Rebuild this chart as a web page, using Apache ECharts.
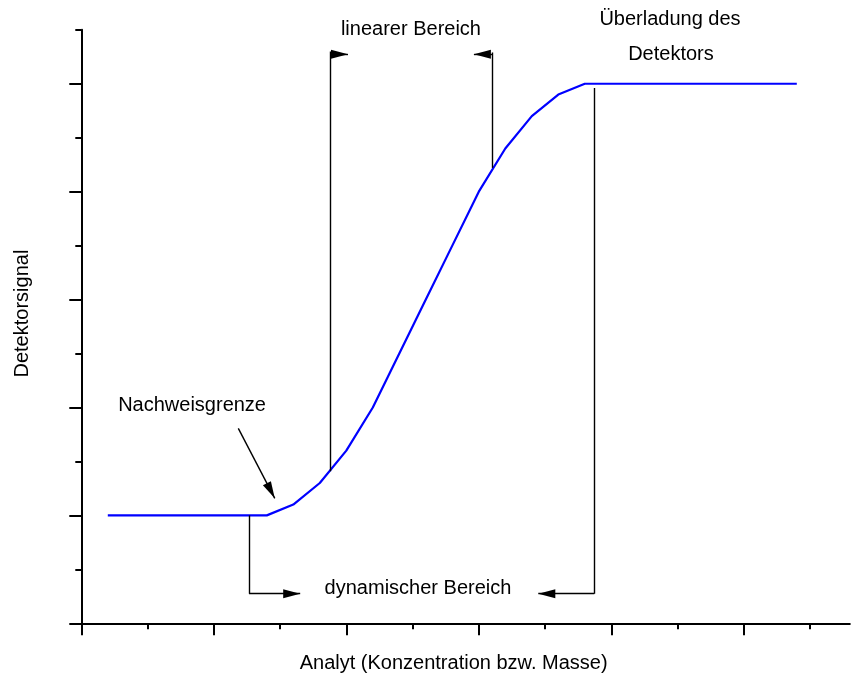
<!DOCTYPE html>
<html>
<head>
<meta charset="utf-8">
<script src="https://cdn.jsdelivr.net/npm/echarts@6/dist/echarts.min.js"></script>
<style>
  html, body { margin: 0; padding: 0; background: #fff; }
  #chart { width: 868px; height: 679px; }
</style>
</head>
<body>
<div id="chart"></div>
<script>
// Detector response: signal versus amount of analyte
const concentration = [0.2, 1.4, 1.6, 1.8, 2.0, 2.2, 2.4, 2.6, 2.8, 3.0, 3.2, 3.4, 3.6, 3.8, 5.4];
const signal        = [1.0, 1.0, 1.1, 1.3, 1.6, 2.0, 2.5, 3.0, 3.5, 4.0, 4.4, 4.7, 4.9, 5.0, 5.0];

// Tick positions (no tick labels are shown)
const majorTicksX = [0, 1, 2, 3, 4, 5];
const minorTicksX = [0.5, 1.5, 2.5, 3.5, 4.5, 5.5];
const majorTicksY = [0, 1, 2, 3, 4, 5];
const minorTicksY = [0.5, 1.5, 2.5, 3.5, 4.5, 5.5];

// Range brackets: plain vertical strokes (data coordinates)
const bracketLines = [
  [[1.877, 1.41], [1.877, 5.30]],
  [[3.10, 4.22], [3.10, 5.29]],
  [[1.266, 1.0], [1.266, 0.274]],
  [[3.872, 4.96], [3.872, 0.274]]
];

// Arrows: [from, to] with the head at "to"
const arrowLines = [
  [[1.877, 5.273], [2.013, 5.273]],
  [[3.10, 5.273], [2.963, 5.273]],
  [[1.266, 0.274], [1.652, 0.274]],
  [[3.872, 0.274], [3.449, 0.274]],
  [[1.185, 1.807], [1.46, 1.158]]
];

// Annotation texts, centred on the given point (data coordinates)
const noteTexts  = ['linearer Bereich', 'Überladung des', 'Detektors', 'dynamischer Bereich', 'Nachweisgrenze'];
const noteCoords = [[2.488, 5.499], [4.443, 5.591], [4.45, 5.267], [2.541, 0.327], [0.836, 2.023]];

const xTitle = 'Analyt (Konzentration bzw. Masse)';
const yTitle = 'Detektorsignal';

const FONT = '"Liberation Sans", Arial, Helvetica, sans-serif';
const X_MAX = 5.8, Y_MAX = 5.5;
const HEAD_W = 9, HEAD_L = 17;

function axisPair(kind, majors, minors, max) {
  const base = {
    type: 'value', min: 0, max: max,
    axisLabel: { show: false },
    splitLine: { show: false },
    position: kind === 'x' ? 'bottom' : 'left'
  };
  return [
    Object.assign({}, base, {
      axisLine: { show: true, onZero: false, lineStyle: { color: '#000', width: 2 } },
      axisTick: { show: true, inside: false, length: 12, customValues: majors,
                  lineStyle: { color: '#000', width: 2 } }
    }),
    Object.assign({}, base, {
      axisLine: { show: false, onZero: false },
      axisTick: { show: true, inside: false, length: 6, customValues: minors,
                  lineStyle: { color: '#000', width: 2 } }
    })
  ];
}

const chart = echarts.init(document.getElementById('chart'), null, { renderer: 'canvas' });

const annotationStyle = { color: '#000', width: 1.4, type: 'solid' };

chart.setOption({
  animation: false,
  backgroundColor: '#fff',
  textStyle: { fontFamily: FONT },
  grid: { left: 81.3, top: 29.8, width: 768.5, height: 593.5, containLabel: false },
  xAxis: axisPair('x', majorTicksX, minorTicksX, X_MAX),
  yAxis: axisPair('y', majorTicksY, minorTicksY, Y_MAX),
  series: [
    {
      type: 'line',
      clip: false,
      data: concentration.map((c, i) => [c, signal[i]]),
      symbol: 'none',
      lineStyle: { color: '#0000ff', width: 2.2 },
      silent: true,
      z: 3
    },
    {
      type: 'line',
      data: [],
      clip: false,
      silent: true,
      markLine: {
        silent: true,
        symbol: ['none', 'none'],
        label: { show: false },
        lineStyle: annotationStyle,
        data: bracketLines.map(seg => [{ coord: seg[0] }, { coord: seg[1] }])
      }
    },
    {
      type: 'line',
      data: [],
      clip: false,
      silent: true,
      markLine: {
        silent: true,
        symbol: ['none', 'triangle'],
        label: { show: false },
        lineStyle: annotationStyle,
        itemStyle: { color: '#000' },
        data: arrowLines.map(seg => [
          { coord: seg[0], symbol: 'none' },
          { coord: seg[1], symbol: 'triangle', symbolSize: [HEAD_W, HEAD_L],
            symbolOffset: [0, HEAD_L / 2], itemStyle: { color: '#000' } }
        ])
      }
    }
  ]
});

// Text annotations and axis titles, placed through the chart's own scales
function placeTexts() {
  const texts = noteTexts.map((t, i) => {
    const p = chart.convertToPixel({ gridIndex: 0 }, noteCoords[i]);
    return {
      type: 'text', x: p[0], y: p[1], silent: true,
      style: { text: t, font: '20px ' + FONT, fill: '#000',
               align: 'center', verticalAlign: 'middle' }
    };
  });
  const xMid = chart.convertToPixel({ gridIndex: 0 }, [2.81, 0]);
  texts.push({
    type: 'text', x: xMid[0], y: xMid[1] + 40, silent: true,
    style: { text: xTitle, font: '20px ' + FONT, fill: '#000',
             align: 'center', verticalAlign: 'middle' }
  });
  const yMid = chart.convertToPixel({ gridIndex: 0 }, [0, 2.87]);
  texts.push({
    type: 'text', x: yMid[0] - 59, y: yMid[1], rotation: Math.PI / 2, silent: true,
    style: { text: yTitle, font: '20px ' + FONT, fill: '#000',
             align: 'center', verticalAlign: 'middle' }
  });
  chart.setOption({ graphic: texts });
}
placeTexts();
</script>
</body>
</html>
